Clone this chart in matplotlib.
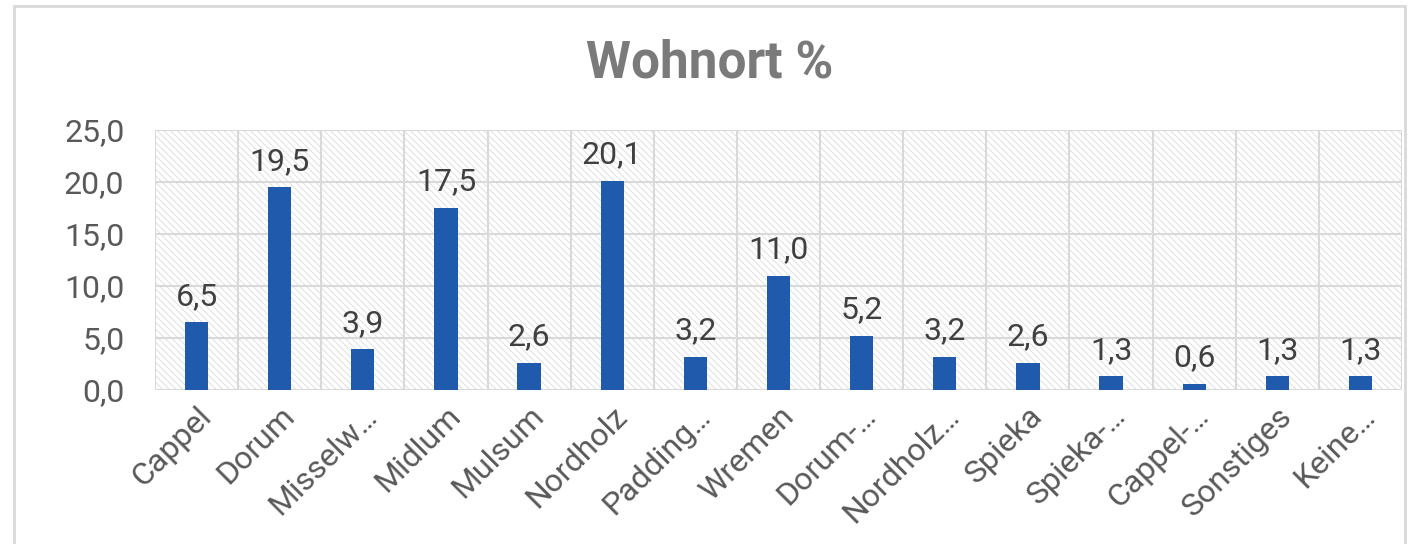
import matplotlib
matplotlib.use("Agg")
import matplotlib.pyplot as plt
from matplotlib.patches import Rectangle

# data
categories = ["Cappel", "Dorum", "Misselw…", "Midlum", "Mulsum", "Nordholz",
              "Padding…", "Wremen", "Dorum-…", "Nordholz…", "Spieka",
              "Spieka-…", "Cappel-…", "Sonstiges", "Keine…"]
values = [6.5, 19.5, 3.9, 17.5, 2.6, 20.1, 3.2, 11.0, 5.2, 3.2, 2.6, 1.3, 0.6, 1.3, 1.3]
yticks = [0, 5, 10, 15, 20, 25]

plt.rcParams['font.family'] = ['Roboto', 'DejaVu Sans']
plt.rcParams['hatch.linewidth'] = 0.6
plt.rcParams['hatch.color'] = '#dadada'

grid_col = '#d9d9d9'
text_col = '#595959'
bar_col = '#1f5aad'

fig = plt.figure(figsize=(14.1, 5.44), dpi=100)

# outer chart frame
fig.patches.append(Rectangle((14 / 1410, -0.05), (1405 - 14) / 1410, 1.05 - 6 / 544,
                             transform=fig.transFigure, fill=False,
                             edgecolor=grid_col, linewidth=2))

ax = fig.add_axes([155 / 1410, 1 - 390 / 544, (1402 - 155) / 1410, 260 / 544])

n = len(categories)
x = list(range(n))

# hatched background
ax.add_patch(Rectangle((0, 0), 1, 1, transform=ax.transAxes, facecolor='white',
                       edgecolor='#dadada', hatch='\\\\\\\\\\', linewidth=0, zorder=0))

# grid
for y in yticks:
    ax.axhline(y, color=grid_col, linewidth=1.5, zorder=1)
for i in range(n + 1):
    ax.axvline(i - 0.5, color=grid_col, linewidth=1.5, zorder=1)

ax.bar(x, values, width=0.28, color=bar_col, zorder=3)

for xi, v in zip(x, values):
    ax.text(xi, v + 1.1, f"{v:.1f}".replace('.', ','), ha='center', va='bottom',
            fontsize=23, color='#404040', zorder=4)

ax.set_xlim(-0.5, n - 0.5)
ax.set_ylim(0, 25)
ax.set_yticks(yticks)
ax.set_yticklabels([f"{y:.1f}".replace('.', ',') for y in yticks], fontsize=23, color=text_col)
ax.set_xticks(x)
ax.set_xticklabels(categories, rotation=45, ha='right', rotation_mode='anchor',
                   fontsize=23, color=text_col)
ax.tick_params(axis='both', length=0)
ax.tick_params(axis='y', pad=22)
ax.tick_params(axis='x', pad=8)
for s in ax.spines.values():
    s.set_visible(False)

fig.text(710 / 1410, 1 - 63 / 544, "Wohnort %", ha='center', va='center',
         fontsize=37, fontweight='bold', color='#7a7a7a')

fig.savefig("out.png", dpi=100)
